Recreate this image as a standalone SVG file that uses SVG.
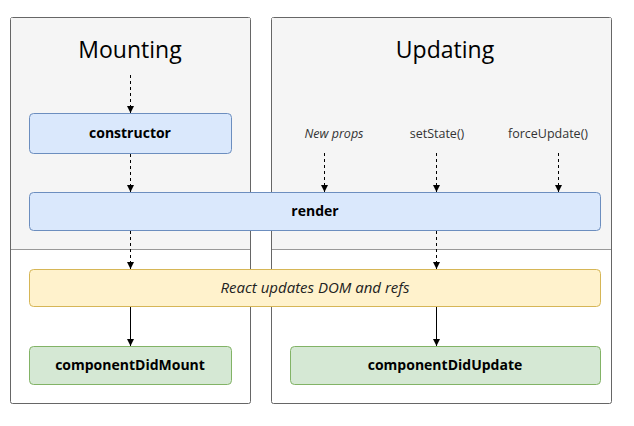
<svg xmlns="http://www.w3.org/2000/svg" width="634" height="426" viewBox="0 0 634 426">
<defs>
<style>
.panel{fill:#ffffff;stroke:#666666;stroke-width:1}
.top{fill:#f5f5f5}
.div{stroke:#999999;stroke-width:1}
.blue{fill:#dae8fc;stroke:#6c8ebf;stroke-width:1}
.yellow{fill:#fff2cc;stroke:#d6b656;stroke-width:1}
.green{fill:#d5e8d4;stroke:#82b366;stroke-width:1}
text{font-family:"Open Sans","Noto Sans","DejaVu Sans",sans-serif;text-anchor:middle;fill:#000}
.title{font-size:23px}
.b{font-size:14px;font-weight:bold}
.lbl{font-size:12.5px;fill:#333}
.it{font-style:italic}
.big{font-size:15px;fill:#222;font-style:italic}
.dash{stroke:#000;stroke-width:1;stroke-dasharray:3 3;fill:none;marker-end:url(#ah)}
.solid{stroke:#000;stroke-width:1;fill:none;marker-end:url(#ah)}
</style>
<marker id="ah" markerWidth="8" markerHeight="8" refX="7" refY="4" orient="auto" markerUnits="userSpaceOnUse">
<path d="M0,0.5 L7,4 L0,7.5 Z" fill="#000"/>
</marker>
</defs>
<g id="mounting-panel">
<rect class="panel" x="10.5" y="17.5" width="240" height="386" rx="2"/>
<path class="top" d="M11,18 H250 V249 H11 Z"/>
<line class="div" x1="11" y1="249.5" x2="250" y2="249.5"/>
<text class="title" x="130" y="58">Mounting</text>
</g>
<g id="updating-panel">
<rect class="panel" x="271.5" y="17.5" width="340" height="386" rx="2"/>
<path class="top" d="M272,18 H611 V249 H272 Z"/>
<line class="div" x1="272" y1="249.5" x2="611" y2="249.5"/>
<text class="title" x="445" y="58">Updating</text>
<text class="lbl it" x="334" y="138">New props</text>
<text class="lbl" x="437" y="138">setState()</text>
<text class="lbl" x="548" y="138">forceUpdate()</text>
</g>
<g id="constructor">
<rect class="blue" x="29.5" y="113.5" width="202" height="40" rx="4"/>
<text class="b" x="130" y="138">constructor</text>
</g>
<g id="render">
<rect class="blue" x="29.5" y="192.5" width="571" height="38" rx="4"/>
<text class="b" x="315" y="216">render</text>
</g>
<g id="react-updates">
<rect class="yellow" x="29.5" y="269.5" width="571" height="37" rx="4"/>
<text class="big" x="315" y="293">React updates DOM and refs</text>
</g>
<g id="componentDidMount">
<rect class="green" x="29.5" y="346.5" width="202" height="38" rx="4"/>
<text class="b" x="130" y="370">componentDidMount</text>
</g>
<g id="componentDidUpdate">
<rect class="green" x="290.5" y="346.5" width="310" height="38" rx="4"/>
<text class="b" x="445" y="370">componentDidUpdate</text>
</g>
<g id="connectors">
<line class="dash" x1="130.5" y1="75" x2="130.5" y2="113"/>
<line class="dash" x1="130.5" y1="154" x2="130.5" y2="192"/>
<line class="dash" x1="130.5" y1="231" x2="130.5" y2="269"/>
<line class="solid" x1="130.5" y1="307" x2="130.5" y2="346"/>
<line class="dash" x1="324.5" y1="153" x2="324.5" y2="192"/>
<line class="dash" x1="436.5" y1="153" x2="436.5" y2="192"/>
<line class="dash" x1="558.5" y1="153" x2="558.5" y2="192"/>
<line class="dash" x1="436.5" y1="231" x2="436.5" y2="269"/>
<line class="solid" x1="436.5" y1="307" x2="436.5" y2="346"/>
</g>
</svg>
